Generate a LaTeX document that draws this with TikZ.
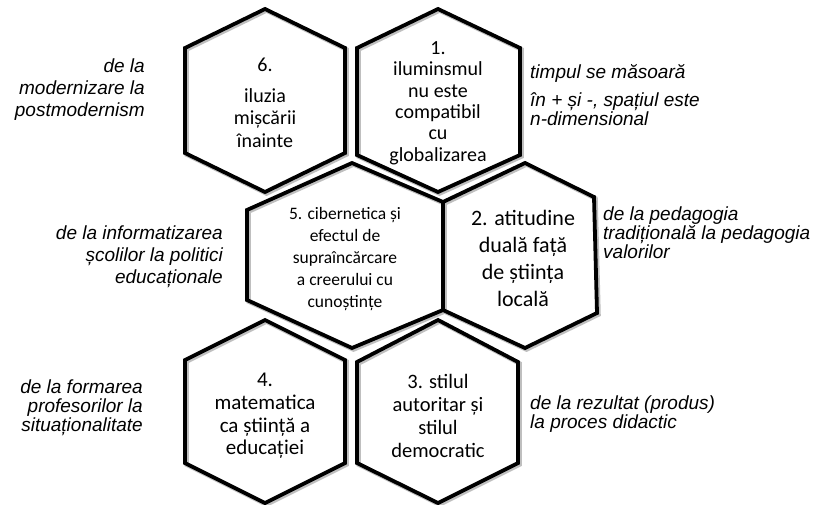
\documentclass[tikz,border=0pt]{standalone}
\usepackage{fontspec}
\setmainfont{Carlito}
\newfontfamily\lblfont{Liberation Sans}
\begin{document}
\begin{tikzpicture}[x=1pt,y=-1pt,
  hexline/.style={draw=black,line width=3.8pt,line join=miter},
  hexshadow/.style={draw=black!25,line width=4.5pt,line join=miter},
  hextext/.style={align=center,inner sep=0pt},
  lbl/.style={font=\lblfont\itshape\fontsize{19}{22}\selectfont,inner sep=0pt},
  lbls/.style={font=\lblfont\itshape\fontsize{19}{19}\selectfont,inner sep=0pt}]
\useasboundingbox (0,0) rectangle (819,505);
\fill[white] (0,0) rectangle (819,505);

% shadows
\begin{scope}[shift={(1.5,1.5)}]
\draw[hexshadow] (265,9) -- (345,48) -- (345,153) -- (265,192) -- (185,153) -- (185,48) -- cycle;
\draw[hexshadow] (438,9) -- (520,48) -- (520,155) -- (438,192) -- (357,155) -- (357,48) -- cycle;
\draw[hexshadow] (352,163) -- (443,202) -- (443,310) -- (352,348) -- (247,300) -- (247,210) -- cycle;
\draw[hexshadow] (525,163) -- (594,197) -- (597,313) -- (525,348) -- (443,310) -- (443,202) -- cycle;
\draw[hexshadow] (265,320) -- (345,360) -- (345,463) -- (265,503) -- (185,463) -- (185,360) -- cycle;
\draw[hexshadow] (438,320) -- (518,362) -- (518,463) -- (438,503) -- (357,463) -- (357,362) -- cycle;
\end{scope}

% hexagons
\draw[hexline] (265,9) -- (345,48) -- (345,153) -- (265,192) -- (185,153) -- (185,48) -- cycle;
\draw[hexline] (438,9) -- (520,48) -- (520,155) -- (438,192) -- (357,155) -- (357,48) -- cycle;
\draw[hexline] (352,163) -- (443,202) -- (443,310) -- (352,348) -- (247,300) -- (247,210) -- cycle;
\draw[hexline] (525,163) -- (594,197) -- (597,313) -- (525,348) -- (443,310) -- (443,202) -- cycle;
\draw[hexline] (265,320) -- (345,360) -- (345,463) -- (265,503) -- (185,463) -- (185,360) -- cycle;
\draw[hexline] (438,320) -- (518,362) -- (518,463) -- (438,503) -- (357,463) -- (357,362) -- cycle;

% hexagon texts
\node[hextext,font=\fontsize{20}{22.5}\selectfont] (t6) at (265,103) {6.\\[8pt]iluzia\\mișcării\\înainte};
\node[hextext,font=\fontsize{20}{21.4}\selectfont] (t1) at (438,103) {1.\\iluminsmul\\nu este\\compatibil\\cu\\globalizarea};
\node[hextext,font=\fontsize{17.5}{22}\selectfont] (t5) at (345,259) {5. cibernetica și\\efectul de\\supraîncărcare\\a creerului cu\\cunoștințe};
\node[hextext,font=\fontsize{22}{27}\selectfont] (t2) at (523,258) {2. atitudine\\duală față\\de știința\\locală};
\node[hextext,font=\fontsize{21}{22.7}\selectfont] (t4) at (265,416) {4.\\matematica\\ca știință a\\educației};
\node[hextext,font=\fontsize{20.5}{22.7}\selectfont] (t3) at (438,416) {3. stilul\\autoritar și\\stilul\\democratic};

% labels
\node[lbl,align=right,anchor=east] (l6) at (145,90) {de la\\modernizare la\\postmodernism};
\node[lbls,align=left,anchor=west] (l1) at (530,95) {timpul se măsoară\\[9pt]în + și -, spațiul este\\n-dimensional};
\node[lbl,align=right,anchor=east] (l5) at (223,257) {de la informatizarea\\școlilor la politici\\educaționale};
\node[lbls,align=left,anchor=west] (l2) at (603,233) {de la pedagogia\\tradițională la pedagogia\\valorilor};
\node[lbls,align=right,anchor=east] (l4) at (143,408) {de la formarea\\profesorilor la\\situaționalitate};
\node[lbls,align=left,anchor=west] (l3) at (530,414) {de la rezultat (produs)\\la proces didactic};
\end{tikzpicture}
\end{document}
